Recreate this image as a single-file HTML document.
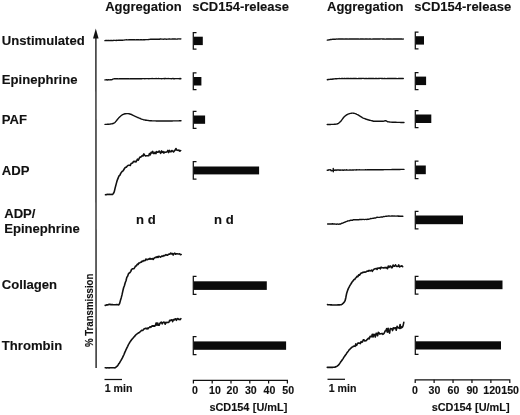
<!DOCTYPE html>
<html><head><meta charset="utf-8">
<style>
html,body{margin:0;padding:0;background:#fff;}
svg{display:block;}
text{font-family:"Liberation Sans",Arial,sans-serif;font-weight:bold;fill:#111;}
text{stroke:#111;stroke-width:0.12px;}
.t{font-size:13px;}
.l{font-size:13.1px;}
.s{font-size:10.6px;}
.k{font-size:10.6px;}
.v{font-size:10.2px;}
.u{word-spacing:0.4px;font-size:10.9px;}
.c{fill:none;stroke:#111;stroke-width:1.4;stroke-linejoin:round;stroke-linecap:round;}
.n{stroke-width:1.6;}
.b{fill:none;stroke:#111;stroke-width:1.25;}
.bar{fill:#0a0a0a;}
</style></head><body>
<svg width="520" height="415" viewBox="0 0 520 415">
<rect width="520" height="415" fill="#fff"/>
<text class="t" x="105.2" y="11.2">Aggregation</text>
<text class="t" x="192.2" y="11.1">sCD154-release</text>
<text class="t" x="327" y="11.3">Aggregation</text>
<text class="t" x="414.3" y="11.3">sCD154-release</text>
<text class="l" x="1.8" y="44.8">Unstimulated</text>
<text class="l" x="1.8" y="84">Epinephrine</text>
<text class="l" x="1.8" y="123.6">PAF</text>
<text class="l" x="1.8" y="174.6">ADP</text>
<text class="l" x="4.2" y="217.6">ADP/</text>
<text class="l" x="4.2" y="233">Epinephrine</text>
<text class="l" x="1.8" y="288.7">Collagen</text>
<text class="l" x="1.8" y="349.6">Thrombin</text>
<line x1="95.9" y1="36" x2="96.1" y2="368" stroke="#111" stroke-width="1.3"/>
<polygon points="95.8,28.6 93.0,38.6 98.6,38.6" fill="#111"/>
<text class="v" textLength="73.4" lengthAdjust="spacingAndGlyphs" transform="translate(93.4,347) rotate(-90)">% Transmission</text>
<path class="c" d="M104.9,40.6 L105.7,40.5 L106.5,40.5 L107.3,40.4 L108.1,40.6 L108.9,40.3 L109.7,40.6 L110.5,40.4 L111.3,40.5 L112.1,40.5 L112.9,40.6 L113.7,40.3 L114.5,40.4 L115.3,40.4 L116.1,40.5 L116.9,40.3 L117.7,40.4 L118.5,40.3 L119.3,40.3 L120.1,40.3 L120.9,40.1 L121.7,40.2 L122.5,40.2 L123.3,40.1 L124.1,40.1 L124.9,39.9 L125.7,39.9 L126.5,39.8 L127.3,39.9 L128.1,39.9 L128.9,39.8 L129.7,39.8 L130.5,39.8 L131.3,39.8 L132.1,39.8 L132.9,39.8 L133.7,39.7 L134.5,39.8 L135.3,39.9 L136.1,39.8 L136.9,39.8 L137.7,39.7 L138.5,39.7 L139.3,39.9 L140.1,39.8 L140.9,39.7 L141.7,39.7 L142.5,39.9 L143.3,39.7 L144.1,39.7 L144.9,39.7 L145.7,39.6 L146.5,39.6 L147.3,39.6 L148.1,39.6 L148.9,39.5 L149.7,39.4 L150.5,39.3 L151.3,39.2 L152.1,39.3 L152.9,39.1 L153.7,39.3 L154.5,39.2 L155.3,39.1 L156.1,39.2 L156.9,39.1 L157.7,39.2 L158.5,39.3 L159.3,39.3 L160.1,39.0 L160.9,39.0 L161.7,39.1 L162.5,39.1 L163.3,39.2 L164.1,39.1 L164.9,38.9 L165.7,39.1 L166.5,39.2 L167.3,39.1 L168.1,39.1 L168.9,39.0 L169.7,39.0 L170.5,39.1 L171.3,39.1 L172.1,39.0 L172.9,39.0 L173.7,39.0 L174.5,39.0 L175.3,39.0 L176.1,39.1 L176.9,39.1 L177.7,39.0 L178.5,38.9 L179.3,38.9 L180.1,39.0 L180.9,38.9"/><path class="c" d="M104.9,79.9 L105.7,79.9 L106.5,79.8 L107.3,80.0 L108.1,79.8 L108.9,79.8 L109.7,79.9 L110.5,79.8 L111.3,79.8 L112.1,79.6 L112.9,79.1 L113.7,78.9 L114.5,78.8 L115.3,78.7 L116.1,78.8 L116.9,78.8 L117.7,78.8 L118.5,78.9 L119.3,78.8 L120.1,78.8 L120.9,78.7 L121.7,78.8 L122.5,78.8 L123.3,78.7 L124.1,78.8 L124.9,78.8 L125.7,78.8 L126.5,78.7 L127.3,78.7 L128.1,78.8 L128.9,78.8 L129.7,78.9 L130.5,78.6 L131.3,78.8 L132.1,78.8 L132.9,78.8 L133.7,78.8 L134.5,78.7 L135.3,78.7 L136.1,78.7 L136.9,78.7 L137.7,78.7 L138.5,78.6 L139.3,78.8 L140.1,78.8 L140.9,78.6 L141.7,78.7 L142.5,78.6 L143.3,78.6 L144.1,78.6 L144.9,78.7 L145.7,78.6 L146.5,78.6 L147.3,78.6 L148.1,78.6 L148.9,78.7 L149.7,78.6 L150.5,78.6 L151.3,78.6 L152.1,78.5 L152.9,78.6 L153.7,78.6 L154.5,78.6 L155.3,78.6 L156.1,78.5 L156.9,78.6 L157.7,78.6 L158.5,78.5 L159.3,78.6 L160.1,78.6 L160.9,78.6 L161.7,78.7 L162.5,78.6 L163.3,78.6 L164.1,78.5 L164.9,78.7 L165.7,78.4 L166.5,78.6 L167.3,78.6 L168.1,78.5 L168.9,78.6 L169.7,78.6 L170.5,78.6 L171.3,78.7 L172.1,78.6 L172.9,78.5 L173.7,78.7 L174.5,78.7 L175.3,78.6 L176.1,78.6 L176.9,78.6 L177.7,78.6 L178.5,78.6 L179.3,78.7 L180.1,78.5 L180.9,78.7"/><path class="c" d="M105.0,124.4 L105.8,124.4 L106.6,124.4 L107.4,124.3 L108.2,124.3 L109.0,124.2 L109.8,124.1 L110.6,124.0 L111.4,123.9 L112.2,123.7 L113.0,123.5 L113.8,123.3 L114.6,122.7 L115.4,121.9 L116.2,121.0 L117.0,120.0 L117.8,119.0 L118.6,118.1 L119.4,117.3 L120.2,116.5 L121.0,115.8 L121.8,115.2 L122.6,114.7 L123.4,114.3 L124.2,114.0 L125.0,113.8 L125.8,113.7 L126.6,113.6 L127.4,113.6 L128.2,113.6 L129.0,113.8 L129.8,114.0 L130.6,114.2 L131.4,114.5 L132.2,114.9 L133.0,115.3 L133.8,115.7 L134.6,116.1 L135.4,116.4 L136.2,116.8 L137.0,117.2 L137.8,117.5 L138.6,117.9 L139.4,118.2 L140.2,118.5 L141.0,118.9 L141.8,119.2 L142.6,119.4 L143.4,119.7 L144.2,119.9 L145.0,120.0 L145.8,120.2 L146.6,120.3 L147.4,120.4 L148.2,120.5 L149.0,120.6 L149.8,120.7 L150.6,120.8 L151.4,120.8 L152.2,120.9 L153.0,120.9 L153.8,120.9 L154.6,120.9 L155.4,120.9 L156.2,121.0 L157.0,121.0 L157.8,121.0 L158.6,121.0 L159.4,121.0 L160.2,121.0 L161.0,121.0 L161.8,121.0 L162.6,121.0 L163.4,121.0 L164.2,121.0 L165.0,121.0 L165.8,121.0 L166.6,121.0 L167.4,121.0 L168.2,121.0 L169.0,121.0 L169.8,121.0 L170.6,121.0 L171.4,121.0 L172.2,121.0 L173.0,120.9 L173.8,120.9 L174.6,120.9 L175.4,120.9 L176.2,120.9 L177.0,120.9 L177.8,120.9 L178.6,120.9 L179.4,120.8 L180.2,120.8 L181.0,120.8"/><path class="c n" d="M105.5,194.8 L106.3,194.6 L107.1,194.5 L107.9,194.2 L108.7,194.5 L109.5,194.4 L110.3,194.5 L111.1,194.4 L111.9,194.5 L112.7,194.4 L113.5,193.3 L114.3,191.7 L115.1,188.1 L115.9,185.1 L116.7,182.1 L117.5,179.6 L118.3,177.6 L119.1,175.8 L119.9,175.3 L120.7,173.4 L121.5,172.2 L122.3,171.3 L123.1,170.9 L123.9,169.5 L124.7,168.1 L125.5,167.4 L126.3,167.3 L127.1,166.3 L127.9,165.5 L128.7,165.3 L129.5,165.3 L130.3,165.5 L131.1,163.5 L131.9,163.3 L132.7,162.8 L133.5,161.4 L134.3,161.7 L135.1,161.2 L135.9,162.0 L136.7,160.7 L137.5,159.2 L138.3,160.1 L139.1,158.7 L139.9,157.0 L140.7,157.1 L141.5,156.4 L142.3,155.6 L143.1,155.9 L143.9,153.9 L144.7,155.2 L145.5,156.0 L146.3,155.7 L147.1,155.8 L147.9,155.7 L148.7,155.8 L149.5,153.5 L150.3,154.8 L151.1,152.3 L151.9,152.9 L152.7,151.4 L153.5,153.5 L154.3,153.5 L155.1,152.2 L155.9,153.6 L156.7,151.6 L157.5,152.2 L158.3,152.1 L159.1,151.0 L159.9,152.2 L160.7,153.3 L161.5,150.9 L162.3,152.4 L163.1,151.6 L163.9,153.1 L164.7,152.0 L165.5,152.2 L166.3,152.1 L167.1,151.8 L167.9,150.4 L168.7,152.6 L169.5,150.4 L170.3,151.6 L171.1,151.8 L171.9,150.5 L172.7,151.2 L173.5,151.9 L174.3,150.9 L175.1,150.1 L175.9,148.5 L176.7,150.0 L177.5,150.3 L178.3,150.4 L179.1,150.1 L179.9,151.2 L180.7,150.5"/><path class="c n" d="M105.2,305.4 L106.0,305.2 L106.8,304.8 L107.6,304.9 L108.4,304.6 L109.2,304.4 L110.0,304.4 L110.8,304.6 L111.6,304.6 L112.4,304.5 L113.2,304.7 L114.0,304.7 L114.8,304.8 L115.6,304.7 L116.4,304.6 L117.2,304.7 L118.0,304.6 L118.8,304.9 L119.6,303.6 L120.4,300.6 L121.2,297.9 L122.0,294.9 L122.8,291.2 L123.6,287.7 L124.4,285.7 L125.2,282.7 L126.0,280.7 L126.8,277.4 L127.6,276.2 L128.4,273.9 L129.2,273.0 L130.0,272.5 L130.8,271.4 L131.6,269.4 L132.4,268.9 L133.2,268.8 L134.0,268.6 L134.8,267.3 L135.6,266.0 L136.4,265.9 L137.2,264.3 L138.0,264.5 L138.8,263.0 L139.6,263.0 L140.4,262.3 L141.2,262.2 L142.0,261.1 L142.8,261.5 L143.6,260.5 L144.4,260.7 L145.2,260.5 L146.0,259.0 L146.8,259.7 L147.6,259.6 L148.4,259.0 L149.2,259.3 L150.0,258.3 L150.8,259.1 L151.6,258.9 L152.4,258.6 L153.2,259.5 L154.0,258.2 L154.8,257.8 L155.6,257.2 L156.4,257.5 L157.2,256.6 L158.0,257.5 L158.8,256.3 L159.6,256.5 L160.4,257.2 L161.2,256.6 L162.0,256.0 L162.8,256.4 L163.6,255.5 L164.4,255.7 L165.2,255.2 L166.0,254.6 L166.8,255.1 L167.6,255.2 L168.4,254.4 L169.2,254.0 L170.0,254.1 L170.8,253.1 L171.6,253.9 L172.4,253.5 L173.2,255.0 L174.0,253.6 L174.8,253.1 L175.6,254.2 L176.4,253.7 L177.2,253.8 L178.0,254.0 L178.8,254.0 L179.6,253.8 L180.4,254.6 L181.2,254.5"/><path class="c n" d="M105.2,367.8 L106.0,367.8 L106.7,368.0 L107.5,367.8 L108.2,367.8 L109.0,368.0 L109.7,367.7 L110.5,367.7 L111.2,367.8 L112.0,367.8 L112.7,367.7 L113.5,367.8 L114.2,367.8 L115.0,367.9 L115.7,367.4 L116.5,366.7 L117.2,366.1 L118.0,365.2 L118.7,363.9 L119.5,363.0 L120.2,361.6 L121.0,360.4 L121.7,359.1 L122.5,357.7 L123.2,356.2 L124.0,354.5 L124.7,352.6 L125.5,350.9 L126.2,349.3 L127.0,347.7 L127.7,346.3 L128.4,344.7 L129.2,343.4 L129.9,342.1 L130.7,341.0 L131.4,340.0 L132.2,339.0 L132.9,338.2 L133.7,337.2 L134.4,336.7 L135.2,335.5 L135.9,334.8 L136.7,334.2 L137.4,333.7 L138.2,333.1 L138.9,332.8 L139.7,332.2 L140.4,331.5 L141.2,330.7 L141.9,330.3 L142.7,330.5 L143.4,329.7 L144.2,328.7 L144.9,328.6 L145.7,328.3 L146.4,328.8 L147.2,328.0 L147.9,328.9 L148.7,327.8 L149.4,327.3 L150.2,326.7 L150.9,327.3 L151.7,326.3 L152.4,325.7 L153.2,326.3 L153.9,325.7 L154.7,326.2 L155.4,325.1 L156.2,322.9 L156.9,325.2 L157.7,323.0 L158.4,325.3 L159.2,325.3 L159.9,323.4 L160.7,322.5 L161.4,322.1 L162.2,323.8 L162.9,322.7 L163.7,322.1 L164.4,322.2 L165.2,324.2 L165.9,322.4 L166.7,322.6 L167.4,322.4 L168.2,322.5 L168.9,322.3 L169.7,320.3 L170.4,320.7 L171.2,319.9 L171.9,319.7 L172.7,321.6 L173.4,319.6 L174.2,319.9 L174.9,319.0 L175.7,318.9 L176.4,320.4 L177.2,318.7 L177.9,318.5 L178.7,319.5 L179.4,319.4 L180.2,319.6 L180.9,318.6"/>
<path class="c" d="M327.3,40.1 L328.1,40.0 L328.9,39.9 L329.7,39.7 L330.5,39.5 L331.3,39.5 L332.1,39.4 L332.9,39.1 L333.7,39.2 L334.5,39.1 L335.3,39.2 L336.1,39.1 L336.9,39.0 L337.7,39.1 L338.5,39.0 L339.3,39.0 L340.1,39.0 L340.9,39.0 L341.7,39.0 L342.5,39.0 L343.3,39.0 L344.1,39.1 L344.9,38.9 L345.7,39.0 L346.5,39.0 L347.3,38.9 L348.1,39.1 L348.9,39.0 L349.7,39.0 L350.5,39.0 L351.3,39.0 L352.1,38.9 L352.9,39.0 L353.7,39.0 L354.5,39.0 L355.3,39.0 L356.1,38.9 L356.9,39.0 L357.7,39.0 L358.5,39.0 L359.3,39.1 L360.1,39.0 L360.9,39.0 L361.7,39.0 L362.5,39.0 L363.3,38.9 L364.1,39.1 L364.9,39.0 L365.7,39.0 L366.5,38.9 L367.3,39.0 L368.1,39.1 L368.9,39.0 L369.7,39.0 L370.5,39.0 L371.3,39.1 L372.1,39.1 L372.9,39.0 L373.7,39.0 L374.5,39.0 L375.3,39.0 L376.1,39.0 L376.9,39.0 L377.7,39.0 L378.5,39.0 L379.3,39.0 L380.1,39.0 L380.9,38.9 L381.7,38.9 L382.5,39.0 L383.3,39.0 L384.1,39.0 L384.9,39.1 L385.7,39.1 L386.5,39.0 L387.3,39.0 L388.1,39.0 L388.9,38.9 L389.7,39.0 L390.5,39.0 L391.3,39.0 L392.1,39.1 L392.9,38.9 L393.7,39.0 L394.5,39.0 L395.3,39.0 L396.1,39.0 L396.9,38.9 L397.7,39.0 L398.5,39.0 L399.3,39.0 L400.1,39.0 L400.9,39.0 L401.7,39.0 L402.5,39.1 L403.3,39.0"/><path class="c" d="M327.3,79.7 L328.1,79.5 L328.9,79.5 L329.7,79.4 L330.5,79.3 L331.3,79.3 L332.1,79.2 L332.9,79.0 L333.7,79.0 L334.5,78.9 L335.3,78.7 L336.1,78.7 L336.9,78.7 L337.7,78.6 L338.5,78.6 L339.3,78.5 L340.1,78.6 L340.9,78.6 L341.7,78.5 L342.5,78.4 L343.3,78.6 L344.1,78.5 L344.9,78.5 L345.7,78.6 L346.5,78.5 L347.3,78.4 L348.1,78.5 L348.9,78.4 L349.7,78.6 L350.5,78.5 L351.3,78.5 L352.1,78.6 L352.9,78.4 L353.7,78.5 L354.5,78.4 L355.3,78.5 L356.1,78.4 L356.9,78.6 L357.7,78.6 L358.5,78.5 L359.3,78.5 L360.1,78.5 L360.9,78.5 L361.7,78.5 L362.5,78.4 L363.3,78.4 L364.1,78.5 L364.9,78.6 L365.7,78.5 L366.5,78.5 L367.3,78.6 L368.1,78.5 L368.9,78.5 L369.7,78.5 L370.5,78.5 L371.3,78.5 L372.1,78.4 L372.9,78.5 L373.7,78.5 L374.5,78.6 L375.3,78.5 L376.1,78.4 L376.9,78.5 L377.7,78.6 L378.5,78.5 L379.3,78.5 L380.1,78.4 L380.9,78.4 L381.7,78.5 L382.5,78.4 L383.3,78.6 L384.1,78.5 L384.9,78.5 L385.7,78.6 L386.5,78.6 L387.3,78.5 L388.1,78.5 L388.9,78.5 L389.7,78.5 L390.5,78.4 L391.3,78.5 L392.1,78.5 L392.9,78.5 L393.7,78.5 L394.5,78.5 L395.3,78.5 L396.1,78.5 L396.9,78.6 L397.7,78.6 L398.5,78.5 L399.3,78.5 L400.1,78.5 L400.9,78.5 L401.7,78.5 L402.5,78.5 L403.3,78.5"/><path class="c" d="M327.2,124.5 L328.0,124.5 L328.8,124.5 L329.6,124.5 L330.4,124.5 L331.2,124.4 L332.0,124.4 L332.8,124.4 L333.6,124.4 L334.4,124.3 L335.2,124.2 L336.0,124.1 L336.8,124.0 L337.6,123.8 L338.4,123.4 L339.2,122.8 L340.0,122.0 L340.8,121.2 L341.6,120.2 L342.4,119.1 L343.2,118.0 L344.0,117.0 L344.8,116.2 L345.6,115.6 L346.4,115.0 L347.2,114.6 L348.0,114.2 L348.8,113.9 L349.6,113.6 L350.4,113.4 L351.2,113.3 L352.0,113.1 L352.8,113.1 L353.6,113.2 L354.4,113.4 L355.2,113.6 L356.0,113.9 L356.8,114.3 L357.6,114.6 L358.4,115.1 L359.2,115.6 L360.0,116.1 L360.8,116.7 L361.6,117.2 L362.4,117.7 L363.2,118.1 L364.0,118.4 L364.8,118.7 L365.6,119.0 L366.4,119.3 L367.2,119.5 L368.0,119.8 L368.8,120.0 L369.6,120.2 L370.4,120.4 L371.2,120.6 L372.0,120.8 L372.8,121.0 L373.6,121.2 L374.4,121.3 L375.2,121.3 L376.0,121.3 L376.8,121.3 L377.6,121.3 L378.4,121.3 L379.2,121.3 L380.0,121.3 L380.8,121.3 L381.6,121.3 L382.4,121.3 L383.2,121.2 L384.0,121.1 L384.8,120.8 L385.6,120.6 L386.4,121.0 L387.2,121.5 L388.0,121.8 L388.8,121.9 L389.6,122.0 L390.4,122.1 L391.2,122.1 L392.0,122.2 L392.8,122.2 L393.6,122.3 L394.4,122.3 L395.2,122.3 L396.0,122.3 L396.8,122.4 L397.6,122.4 L398.4,122.4 L399.2,122.4 L400.0,122.4 L400.8,122.5 L401.6,122.5 L402.4,122.5 L403.2,122.5 L404.0,122.5"/><path class="c" d="M327.2,170.2 L328.0,170.4 L328.8,169.8 L329.6,169.9 L330.4,169.7 L331.2,170.7 L332.0,170.5 L332.8,170.6 L333.6,170.3 L334.4,170.3 L335.2,169.9 L336.0,170.5 L336.8,169.9 L337.6,170.0 L338.4,170.0 L339.2,170.0 L340.0,170.2 L340.8,170.0 L341.6,170.1 L342.4,170.0 L343.2,170.3 L344.0,170.0 L344.8,170.0 L345.6,170.1 L346.4,169.8 L347.2,170.0 L348.0,170.1 L348.8,170.1 L349.6,170.0 L350.4,169.9 L351.2,170.1 L352.0,170.0 L352.8,170.0 L353.6,170.0 L354.4,169.9 L355.2,169.9 L356.0,170.0 L356.8,169.8 L357.6,169.9 L358.4,169.9 L359.2,169.8 L360.0,169.9 L360.8,169.9 L361.6,169.9 L362.4,169.9 L363.2,169.9 L364.0,169.9 L364.8,169.9 L365.6,169.7 L366.4,169.9 L367.2,169.8 L368.0,169.8 L368.8,169.8 L369.6,169.8 L370.4,169.8 L371.2,169.8 L372.0,169.8 L372.8,169.7 L373.6,169.8 L374.4,169.8 L375.2,169.7 L376.0,169.7 L376.8,169.7 L377.6,169.7 L378.4,169.7 L379.2,169.7 L380.0,169.7 L380.8,169.7 L381.6,169.7 L382.4,169.7 L383.2,169.7 L384.0,169.6 L384.8,169.6 L385.6,169.6 L386.4,169.6 L387.2,169.6 L388.0,169.6 L388.8,169.6 L389.6,169.6 L390.4,169.6 L391.2,169.6 L392.0,169.5 L392.8,169.5 L393.6,169.5 L394.4,169.5 L395.2,169.5 L396.0,169.5 L396.8,169.5 L397.6,169.5 L398.4,169.5 L399.2,169.5 L400.0,169.5 L400.8,169.4 L401.6,169.4 L402.4,169.4 L403.2,169.4 L404.0,169.4"/><path class="c" d="M327.6,224.0 L328.4,224.0 L329.2,223.9 L330.0,224.0 L330.8,224.0 L331.6,224.0 L332.4,223.8 L333.2,224.0 L334.0,224.0 L334.8,223.9 L335.6,224.1 L336.4,224.2 L337.2,224.0 L338.0,224.1 L338.8,224.2 L339.6,224.0 L340.4,224.1 L341.2,223.5 L342.0,223.3 L342.8,223.1 L343.6,222.7 L344.4,222.3 L345.2,222.1 L346.0,221.7 L346.8,221.4 L347.6,221.0 L348.4,220.9 L349.2,220.8 L350.0,220.5 L350.8,220.2 L351.6,220.3 L352.4,220.4 L353.2,219.7 L354.0,219.8 L354.8,219.7 L355.6,219.6 L356.4,219.7 L357.2,219.7 L358.0,219.7 L358.8,219.7 L359.6,219.5 L360.4,219.5 L361.2,219.5 L362.0,219.5 L362.8,219.4 L363.6,219.4 L364.4,219.6 L365.2,219.4 L366.0,219.4 L366.8,219.5 L367.6,219.3 L368.4,219.3 L369.2,219.1 L370.0,218.8 L370.8,218.5 L371.6,218.6 L372.4,218.4 L373.2,218.2 L374.0,218.2 L374.8,217.9 L375.6,218.0 L376.4,217.5 L377.2,217.3 L378.0,217.4 L378.8,217.4 L379.6,217.4 L380.4,217.1 L381.2,217.0 L382.0,216.9 L382.8,217.0 L383.6,216.5 L384.4,216.6 L385.2,216.4 L386.0,216.2 L386.8,216.2 L387.6,216.1 L388.4,215.9 L389.2,216.0 L390.0,216.1 L390.8,216.1 L391.6,216.0 L392.4,216.0 L393.2,216.0 L394.0,216.1 L394.8,216.0 L395.6,216.1 L396.4,216.1 L397.2,215.9 L398.0,216.2 L398.8,216.0 L399.6,216.2 L400.4,216.2 L401.2,216.3 L402.0,216.2 L402.8,216.3"/><path class="c n" d="M327.5,304.6 L328.3,304.7 L329.1,304.8 L329.9,304.8 L330.7,304.9 L331.5,304.9 L332.3,305.0 L333.1,305.0 L333.9,305.0 L334.7,305.0 L335.5,305.0 L336.3,305.0 L337.1,305.0 L337.9,304.9 L338.7,304.9 L339.5,304.9 L340.3,304.8 L341.1,304.8 L341.9,304.4 L342.7,303.7 L343.5,302.9 L344.3,302.0 L345.1,300.7 L345.9,297.2 L346.7,293.2 L347.5,290.7 L348.3,288.6 L349.1,287.2 L349.9,285.5 L350.7,284.4 L351.5,283.0 L352.3,281.7 L353.1,280.9 L353.9,279.6 L354.7,279.5 L355.5,278.2 L356.3,277.5 L357.1,276.3 L357.9,276.7 L358.7,274.8 L359.5,275.2 L360.3,274.0 L361.1,273.1 L361.9,273.0 L362.7,272.4 L363.5,272.4 L364.3,272.0 L365.1,272.1 L365.9,272.0 L366.7,271.3 L367.5,271.1 L368.3,271.1 L369.1,270.3 L369.9,270.9 L370.7,270.7 L371.5,270.1 L372.3,271.3 L373.1,270.1 L373.9,269.2 L374.7,268.9 L375.5,268.8 L376.3,268.4 L377.1,269.4 L377.9,268.0 L378.7,268.3 L379.5,267.9 L380.3,268.8 L381.1,267.1 L381.9,267.7 L382.7,267.7 L383.5,267.9 L384.3,267.9 L385.1,267.3 L385.9,268.0 L386.7,267.5 L387.5,268.7 L388.3,266.0 L389.1,267.3 L389.9,266.1 L390.7,266.1 L391.5,267.8 L392.3,267.6 L393.1,265.1 L393.9,266.1 L394.7,266.2 L395.5,264.8 L396.3,266.2 L397.1,266.5 L397.9,266.3 L398.7,264.9 L399.5,266.9 L400.3,266.4 L401.1,266.2 L401.9,265.8 L402.7,266.7"/><path class="c n" d="M327.3,367.4 L328.1,367.4 L328.8,367.4 L329.6,367.4 L330.3,367.4 L331.1,367.4 L331.8,367.4 L332.6,367.4 L333.3,367.3 L334.1,367.2 L334.8,367.1 L335.6,366.9 L336.3,366.6 L337.1,366.2 L337.8,365.7 L338.6,364.9 L339.3,364.0 L340.1,362.9 L340.8,361.8 L341.6,360.8 L342.3,359.7 L343.1,358.6 L343.8,357.4 L344.6,356.3 L345.3,355.2 L346.1,354.2 L346.8,353.1 L347.6,352.1 L348.3,351.1 L349.1,349.9 L349.8,349.3 L350.6,348.4 L351.3,347.8 L352.1,347.1 L352.8,346.8 L353.6,346.3 L354.3,346.0 L355.1,346.4 L355.8,343.9 L356.6,345.5 L357.3,344.0 L358.1,342.9 L358.8,343.3 L359.6,343.1 L360.3,343.6 L361.1,341.5 L361.8,342.2 L362.6,341.7 L363.3,339.8 L364.1,339.8 L364.8,341.0 L365.6,340.7 L366.3,340.6 L367.1,339.6 L367.8,338.9 L368.6,338.2 L369.3,338.8 L370.1,336.3 L370.8,336.6 L371.6,336.7 L372.3,334.2 L373.1,337.0 L373.8,334.3 L374.6,334.7 L375.3,337.0 L376.1,333.3 L376.8,333.5 L377.6,335.8 L378.3,332.4 L379.1,333.0 L379.8,334.1 L380.6,333.8 L381.3,333.8 L382.1,333.4 L382.8,334.4 L383.6,333.8 L384.3,333.0 L385.1,331.0 L385.8,330.7 L386.6,328.7 L387.3,332.1 L388.1,328.2 L388.8,331.9 L389.6,333.1 L390.3,328.5 L391.1,328.8 L391.8,328.9 L392.6,330.6 L393.3,327.7 L394.1,328.6 L394.8,327.7 L395.6,327.9 L396.3,330.2 L397.1,326.2 L397.8,327.6 L398.6,327.7 L399.3,328.4 L400.1,324.5 L400.8,328.4 L401.6,326.9 L402.3,327.4 L403.1,325.7 L403.8,322.4"/><path class="c" d="M333.3,168.5 L333.3,171.8"/>
<text class="l" x="136" y="224">n d</text>
<text class="l" x="214" y="224">n d</text>
<line class="b" x1="104.5" y1="379.5" x2="122" y2="379.5"/>
<text class="s" x="104.7" y="391.7">1 min</text>
<line class="b" x1="327.5" y1="379.3" x2="345" y2="379.3"/>
<text class="s" x="328.7" y="391.7">1 min</text>
<path class="b" d="M196.5,32.6 H193.3 V49.2 H196.5"/>
<rect class="bar" x="193.8" y="36.7" width="9.0" height="8.399999999999999"/>
<path class="b" d="M196.5,72.9 H193.3 V89.7 H196.5"/>
<rect class="bar" x="193.8" y="77" width="7.599999999999994" height="8.5"/>
<path class="b" d="M196.5,111.4 H193.3 V128.3 H196.5"/>
<rect class="bar" x="193.8" y="115.5" width="11.299999999999983" height="8.299999999999997"/>
<path class="b" d="M196.5,161.5 H193.3 V179 H196.5"/>
<rect class="bar" x="193.8" y="166.5" width="65.30000000000001" height="7.900000000000006"/>
<path class="b" d="M196.5,276.4 H193.3 V294.3 H196.5"/>
<rect class="bar" x="193.8" y="281.3" width="73.0" height="8.599999999999966"/>
<path class="b" d="M196.5,336.6 H193.3 V354.5 H196.5"/>
<rect class="bar" x="193.8" y="341.4" width="92.30000000000001" height="8.400000000000034"/>
<path class="b" d="M418.5,32.1 H415.3 V48.8 H418.5"/>
<rect class="bar" x="415.8" y="36.2" width="8.199999999999989" height="8.399999999999999"/>
<path class="b" d="M418.5,72.7 H415.3 V89.6 H418.5"/>
<rect class="bar" x="415.8" y="76.6" width="10.300000000000011" height="8.5"/>
<path class="b" d="M418.5,110.5 H415.3 V127.5 H418.5"/>
<rect class="bar" x="415.8" y="114.5" width="15.5" height="8.5"/>
<path class="b" d="M418.5,161 H415.3 V178.7 H418.5"/>
<rect class="bar" x="415.8" y="165.5" width="10.0" height="8.699999999999989"/>
<path class="b" d="M418.5,211.3 H415.3 V228.8 H418.5"/>
<rect class="bar" x="415.8" y="215.5" width="47.19999999999999" height="8.699999999999989"/>
<path class="b" d="M418.5,276.3 H415.3 V294 H418.5"/>
<rect class="bar" x="415.8" y="280.5" width="86.69999999999999" height="8.699999999999989"/>
<path class="b" d="M418.5,336.3 H415.3 V354.3 H418.5"/>
<rect class="bar" x="415.8" y="341.3" width="85.19999999999999" height="8.199999999999989"/>
<path class="b" d="M193.4,383.5 V380.3 H287.4 V383.5"/>
<text class="k" text-anchor="middle" x="194.90" y="394.2">0</text>
<line class="b" x1="212.20" y1="380.3" x2="212.20" y2="383.5"/>
<text class="k" text-anchor="middle" x="215.00" y="394.2">10</text>
<line class="b" x1="231.00" y1="380.3" x2="231.00" y2="383.5"/>
<text class="k" text-anchor="middle" x="232.50" y="394.2">20</text>
<line class="b" x1="249.80" y1="380.3" x2="249.80" y2="383.5"/>
<text class="k" text-anchor="middle" x="250.80" y="394.2">30</text>
<line class="b" x1="268.60" y1="380.3" x2="268.60" y2="383.5"/>
<text class="k" text-anchor="middle" x="269.50" y="394.2">40</text>
<text class="k" text-anchor="middle" x="288.20" y="394.2">50</text>
<path class="b" d="M415.2,383.0 V379.8 H509.8 V383.0"/>
<text class="k" text-anchor="middle" x="414.90" y="394.2">0</text>
<line class="b" x1="434.12" y1="379.8" x2="434.12" y2="383.0"/>
<text class="k" text-anchor="middle" x="434.52" y="394.2">30</text>
<line class="b" x1="453.04" y1="379.8" x2="453.04" y2="383.0"/>
<text class="k" text-anchor="middle" x="453.44" y="394.2">60</text>
<line class="b" x1="471.96" y1="379.8" x2="471.96" y2="383.0"/>
<text class="k" text-anchor="middle" x="472.36" y="394.2">90</text>
<line class="b" x1="490.88" y1="379.8" x2="490.88" y2="383.0"/>
<text class="k" text-anchor="middle" x="492.18" y="394.2">120</text>
<text class="k" text-anchor="middle" x="510.10" y="394.2">150</text>
<text class="k u" x="209.4" y="411.4">sCD154 [U/mL]</text>
<text class="k u" x="431.7" y="411.3">sCD154 [U/mL]</text>
</svg>
</body></html>
